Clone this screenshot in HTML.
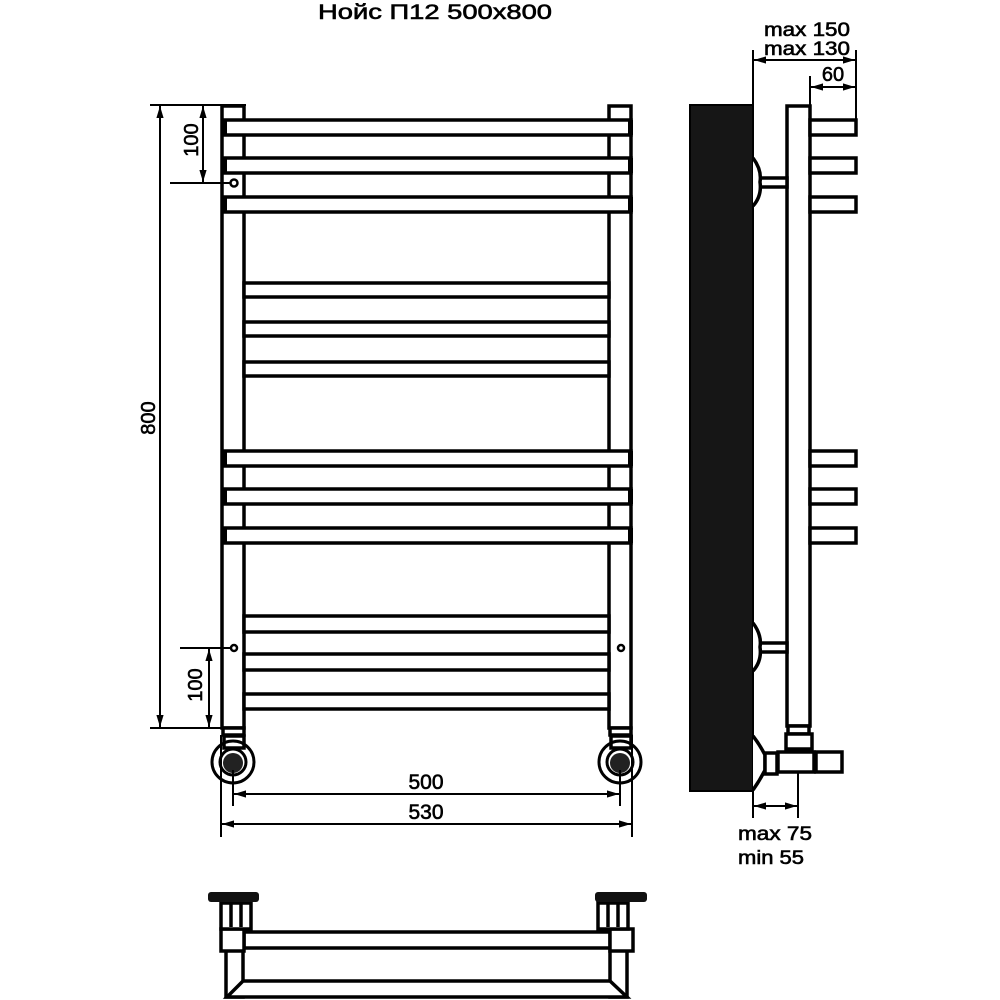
<!DOCTYPE html>
<html><head><meta charset="utf-8"><style>
html,body{margin:0;padding:0;background:#fff;}
svg{display:block;}
text{font-family:"Liberation Sans",Arial,sans-serif;fill:#000;stroke:#000;stroke-width:0.6;}
</style></head><body>
<svg width="1000" height="1000" viewBox="0 0 1000 1000" xmlns="http://www.w3.org/2000/svg">
<defs>
<marker id="a" viewBox="0 0 10 10" refX="10" refY="5" markerWidth="6" markerHeight="6" orient="auto-start-reverse"><path d="M0,2 L10,5 L0,8 z" fill="#000"/></marker>
</defs>
<text x="318" y="19" font-size="21" textLength="234" lengthAdjust="spacingAndGlyphs">Нойс П12 500x800</text>

<g fill="#fff" stroke="#000" stroke-width="3.5">
<rect x="222" y="106" width="22" height="622"/>
<rect x="609" y="106" width="22" height="622"/>
<rect x="244" y="283" width="365" height="14"/>
<rect x="244" y="322" width="365" height="14"/>
<rect x="244" y="362" width="365" height="14"/>
<rect x="244" y="616" width="365" height="16"/>
<rect x="244" y="654" width="365" height="16"/>
<rect x="244" y="694" width="365" height="15"/>
<rect x="224" y="120" width="407" height="15"/>
<rect x="224" y="158" width="407" height="15"/>
<rect x="224" y="197" width="407" height="15"/>
<rect x="224" y="451" width="407" height="15"/>
<rect x="224" y="489" width="407" height="15"/>
<rect x="224" y="528" width="407" height="15"/>
<rect x="223" y="728" width="21" height="7"/>
<rect x="610" y="728" width="21" height="7"/>
<rect x="224" y="736" width="20" height="12"/>
<rect x="611" y="736" width="20" height="12"/>
</g>
<g fill="#000">
<rect x="222" y="120" width="5" height="15"/><rect x="628" y="120" width="5" height="15"/>
<rect x="222" y="158" width="5" height="15"/><rect x="628" y="158" width="5" height="15"/>
<rect x="222" y="197" width="5" height="15"/><rect x="628" y="197" width="5" height="15"/>
<rect x="222" y="451" width="5" height="15"/><rect x="628" y="451" width="5" height="15"/>
<rect x="222" y="489" width="5" height="15"/><rect x="628" y="489" width="5" height="15"/>
<rect x="222" y="528" width="5" height="15"/><rect x="628" y="528" width="5" height="15"/>
</g>
<g fill="#fff" stroke="#000" stroke-width="2.5">
<circle cx="234" cy="183" r="3.5"/><circle cx="234" cy="648" r="3"/><circle cx="621" cy="648" r="3"/>
</g>
<g stroke="#000" stroke-width="3" fill="none">
<circle cx="233" cy="762" r="21"/><circle cx="620" cy="762" r="21"/>
<circle cx="233" cy="762" r="13"/><circle cx="620" cy="762" r="13"/>
</g>
<g fill="#222"><circle cx="233" cy="763" r="10"/><circle cx="620" cy="763" r="10"/></g>

<g stroke="#000" stroke-width="2" fill="none">
<line x1="150" y1="105" x2="246" y2="105"/>
<line x1="150" y1="728" x2="222" y2="728"/>
<line x1="160" y1="106" x2="160" y2="727" marker-start="url(#a)" marker-end="url(#a)"/>
<line x1="203" y1="106" x2="203" y2="182" marker-start="url(#a)" marker-end="url(#a)"/>
<line x1="170" y1="183" x2="230" y2="183"/>
<line x1="180" y1="648" x2="230" y2="648"/>
<line x1="209" y1="649" x2="209" y2="727" marker-start="url(#a)" marker-end="url(#a)"/>
<line x1="233" y1="770" x2="233" y2="806"/>
<line x1="620" y1="770" x2="620" y2="806"/>
<line x1="234" y1="794" x2="619" y2="794" marker-start="url(#a)" marker-end="url(#a)"/>
<line x1="221" y1="735" x2="221" y2="837"/>
<line x1="632" y1="735" x2="632" y2="837"/>
<line x1="222" y1="824" x2="631" y2="824" marker-start="url(#a)" marker-end="url(#a)"/>
</g>
<text x="155" y="418" font-size="20" text-anchor="middle" transform="rotate(-90 155 418)">800</text>
<text x="198" y="140" font-size="20" text-anchor="middle" transform="rotate(-90 198 140)">100</text>
<text x="202" y="685" font-size="20" text-anchor="middle" transform="rotate(-90 202 685)">100</text>
<text x="426" y="789" font-size="21" text-anchor="middle">500</text>
<text x="426" y="819" font-size="21" text-anchor="middle">530</text>

<rect x="690" y="105" width="63" height="686" fill="#161616" stroke="#000" stroke-width="2"/>
<g stroke="#000" stroke-width="3.5" fill="#fff">
<rect x="787" y="106" width="23" height="620"/>
<rect x="810" y="120" width="46" height="15"/>
<rect x="810" y="158" width="46" height="15"/>
<rect x="810" y="197" width="46" height="15"/>
<rect x="810" y="451" width="46" height="15"/>
<rect x="810" y="489" width="46" height="15"/>
<rect x="810" y="528" width="46" height="15"/>
<rect x="759" y="178" width="28" height="9"/>
<rect x="759" y="643" width="28" height="9"/>
<path d="M753,158 Q762,170 760,182 Q762,196 753,206"/>
<path d="M753,623 Q762,635 760,647 Q762,661 753,671"/>
<rect x="788" y="726" width="21" height="8"/>
<rect x="786" y="734" width="26" height="15"/>
<path d="M753,736 Q760,745 765,755 L765,770 Q760,780 753,790"/>
<rect x="765" y="753" width="12" height="21"/>
<rect x="778" y="752" width="36" height="20"/>
<rect x="816" y="752" width="26" height="20"/>
</g>
<g stroke="#000" stroke-width="2" fill="none">
<line x1="753" y1="50" x2="753" y2="105"/>
<line x1="856" y1="50" x2="856" y2="135"/>
<line x1="810" y1="76" x2="810" y2="106"/>
<line x1="754" y1="60" x2="855" y2="60" marker-start="url(#a)" marker-end="url(#a)"/>
<line x1="811" y1="87" x2="855" y2="87" marker-start="url(#a)" marker-end="url(#a)"/>
<line x1="753" y1="792" x2="753" y2="818"/>
<line x1="798" y1="773" x2="798" y2="818"/>
<line x1="754" y1="806" x2="797" y2="806" marker-start="url(#a)" marker-end="url(#a)"/>
</g>
<text x="764" y="36" font-size="19" textLength="86" lengthAdjust="spacingAndGlyphs">max 150</text>
<text x="764" y="55" font-size="19" textLength="86" lengthAdjust="spacingAndGlyphs">max 130</text>
<text x="833" y="81" font-size="20" text-anchor="middle">60</text>
<text x="738" y="840" font-size="19" textLength="74" lengthAdjust="spacingAndGlyphs">max 75</text>
<text x="738" y="864" font-size="19" textLength="66" lengthAdjust="spacingAndGlyphs">min 55</text>

<g stroke="#000" stroke-width="3.5" fill="#fff">
<rect x="226" y="950" width="17" height="47"/>
<rect x="610" y="950" width="17" height="47"/>
<path d="M243,981 L610,981 L627,997 L227,997 Z"/>
<rect x="244" y="932" width="366" height="16"/>
<rect x="221" y="929" width="23" height="22"/>
<rect x="610" y="929" width="23" height="22"/>
<rect x="221" y="903" width="30" height="26"/>
<rect x="598" y="903" width="30" height="26"/>
<line x1="231" y1="903" x2="231" y2="927"/><line x1="241" y1="903" x2="241" y2="927"/>
<line x1="608" y1="903" x2="608" y2="927"/><line x1="618" y1="903" x2="618" y2="927"/>
</g>
<rect x="208" y="892" width="51" height="10" rx="3" fill="#111"/>
<rect x="595" y="892" width="52" height="10" rx="3" fill="#111"/>
</svg>
</body></html>
